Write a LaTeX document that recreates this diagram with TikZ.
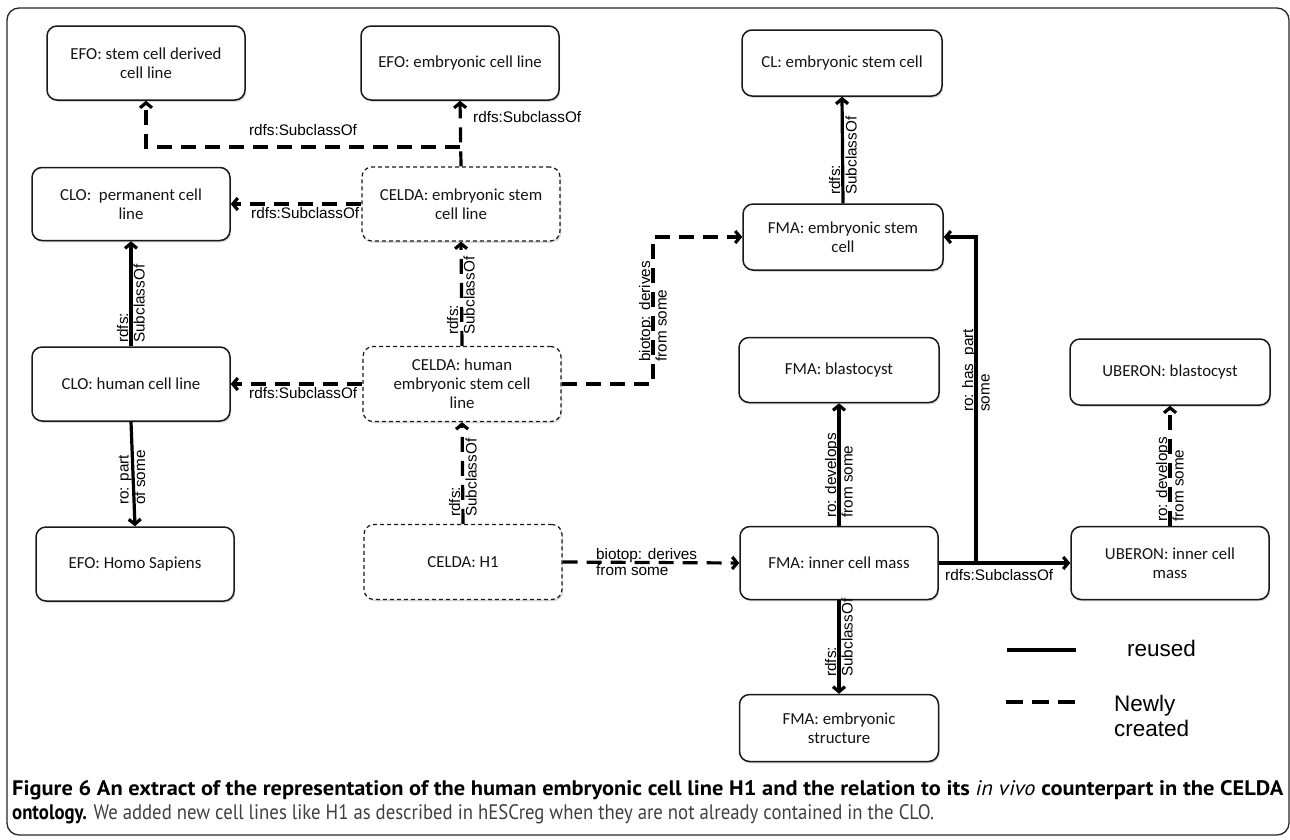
\documentclass[tikz,border=0pt]{standalone}
\usepackage{fontspec}
\usepackage{graphicx}
\usetikzlibrary{arrows.meta,shadows}
\newfontfamily\boxfont{Carlito}
\newfontfamily\labfont{Liberation Sans}
\newfontfamily\capfont{PT Sans}

\tikzset{
  concept/.style={draw=black!90, line width=1.5pt, rounded corners=10pt, fill=white,
    align=center, font=\boxfont\fontsize{16.8}{19}\selectfont, text=black!92,
    inner sep=2pt, minimum width=198pt,
    drop shadow={shadow xshift=1.2pt, shadow yshift=-1.8pt, opacity=0.3}},
  newconcept/.style={concept, line width=1.2pt, dash pattern=on 4pt off 3pt},
  rel/.style={line width=3.2pt, -{Straight Barb[length=5pt,width=12pt]}},
  reused/.style={rel},
  created/.style={rel, dash pattern=on 15pt off 9pt},
  lab/.style={font=\labfont\fontsize{15.3}{16.5}\selectfont, inner sep=0pt, align=left},
  vlab/.style={lab, rotate=90, anchor=west},
  legtext/.style={font=\labfont\fontsize{22.5}{25}\selectfont, inner sep=0pt, align=left, anchor=west},
}

\begin{document}
\begin{tikzpicture}[x=1pt, y=-1pt]
\useasboundingbox (0,0) rectangle (1290,839);

% outer frame
\draw[line width=1.3pt, draw=black!85, rounded corners=12pt] (7,8) rectangle (1289,835);

% classes
\node[concept, minimum height=74pt] (efoS) at (146,63) {EFO: stem cell derived\\cell line};
\node[concept, minimum height=74pt] (efoE) at (460,63) {EFO: embryonic cell line};
\node[concept, minimum height=73pt] (cloP) at (131,204) {CLO:~ permanent cell\\line};
\node[newconcept, minimum height=74pt] (celE) at (461,204) {CELDA: embryonic stem\\cell line};
\node[concept, minimum height=74pt] (cloH) at (131,384) {CLO: human cell line};
\node[concept, minimum height=74pt] (homo) at (135,564) {EFO: Homo Sapiens};
\node[newconcept, minimum height=75pt] (celH) at (462,384) {CELDA: human\\embryonic stem cell\\line};
\node[newconcept, minimum height=75pt] (h1) at (463,562) {CELDA: H1};
\node[concept, minimum width=200pt, minimum height=66pt] (cl) at (842,63) {CL: embryonic stem cell};
\node[concept, minimum width=200pt, minimum height=66pt] (fmaE) at (843,237) {FMA: embryonic stem\\cell};
\node[concept, minimum width=200pt, minimum height=65pt] (fmaB) at (839,370) {FMA: blastocyst};
\node[concept, minimum width=200pt, minimum height=66pt] (ubB) at (1170,372) {UBERON: blastocyst};
\node[concept, minimum height=73pt] (fmaI) at (839,563) {FMA: inner cell mass};
\node[concept, minimum height=73pt] (ubI) at (1170,563) {UBERON: inner cell\\mass};
\node[concept, minimum width=199pt, minimum height=67pt] (fmaS) at (839,728) {FMA: embryonic\\structure};

% junctions and bends
\coordinate (jE) at (460,147);
\coordinate (bend) at (653,384);
\coordinate (jI) at (976,563);

% relations
\draw[created] (celE.north) -- (efoE.south);
\draw[created] (jE) -| (efoS.south);
\draw[created] (celE.west) -- (cloP.east);
\draw[reused] (cloH.north) -- (cloP.south);
\draw[reused] (cloH.south) -- (homo.north);
\draw[created] (celH.west) -- (cloH.east);
\draw[created] (celH.north) -- (celE.south);
\draw[created] (h1.north) -- (celH.south);
\draw[created] (celH.east) -- (bend) |- (fmaE.west);
\draw[created] (h1.east) -- (fmaI.west);
\draw[reused] (fmaE.north) -- (cl.south);
\draw[reused] (fmaI.east) -- (ubI.west);
\draw[reused] (jI) |- (fmaE.east);
\draw[reused] (fmaI.north) -- (fmaB.south);
\draw[created] (ubI.north) -- (ubB.south);
\draw[reused] (fmaI.south) -- (fmaS.north);

% relation labels
\node[lab] (l1) at (303,130) {rdfs:SubclassOf};
\node[lab, anchor=west] (l2) at (473,117) {rdfs:SubclassOf};
\node[lab, anchor=west] (l3) at (251,213) {rdfs:SubclassOf};
\node[vlab] (l4) at (131,343) {rdfs:\\SubclassOf};
\node[vlab] (l5) at (461,335) {rdfs:\\SubclassOf};
\node[vlab] (l6) at (132,505) {ro: part\\of some};
\node[lab, anchor=west] (l7) at (249,393) {rdfs:SubclassOf};
\node[vlab] (l8) at (463,517) {rdfs:\\SubclassOf};
\node[vlab] (l9) at (653,362) {biotop: derives\\from some};
\node[lab, anchor=west] (l10) at (596,562) {biotop: derives\\from some};
\node[vlab] (l11) at (843,195) {rdfs:\\SubclassOf};
\node[vlab] (l12) at (976,412) {ro: has\_part\\some};
\node[lab, anchor=west] (l13) at (945,575) {rdfs:SubclassOf};
\node[vlab] (l14) at (839,518) {ro: develops\\from some};
\node[vlab] (l15) at (1170,522) {ro: develops\\from some};
\node[vlab] (l16) at (839,677) {rdfs:\\SubclassOf};

% legend
\coordinate (ra) at (1007,650);
\coordinate (rb) at (1076,650);
\coordinate (na) at (1006,702);
\coordinate (nb) at (1075,702);
\draw[line width=3.2pt] (ra) -- (rb);
\draw[line width=3.2pt, dash pattern=on 17pt off 9pt] (na) -- (nb);
\node[legtext] (lgR) at (1127,648) {reused};
\node[legtext] (lgN) at (1114,716) {Newly\\created};

% caption
\node[anchor=base west, inner sep=0pt] (cap1) at (12,795)
  {\resizebox{1271pt}{\height}{\capfont\fontsize{21}{22}\selectfont\bfseries Figure 6 An extract of the representation of the human embryonic cell line H1 and the relation to its {\mdseries\itshape in vivo} counterpart in the CELDA}};
\node[anchor=base west, inner sep=0pt, text=black!75] (cap2) at (12,819)
  {\resizebox{922pt}{\height}{\capfont\fontsize{21}{22}\selectfont{\bfseries\color{black} ontology.} We added new cell lines like H1 as described in hESCreg when they are not already contained in the CLO.}};
\end{tikzpicture}
\end{document}
